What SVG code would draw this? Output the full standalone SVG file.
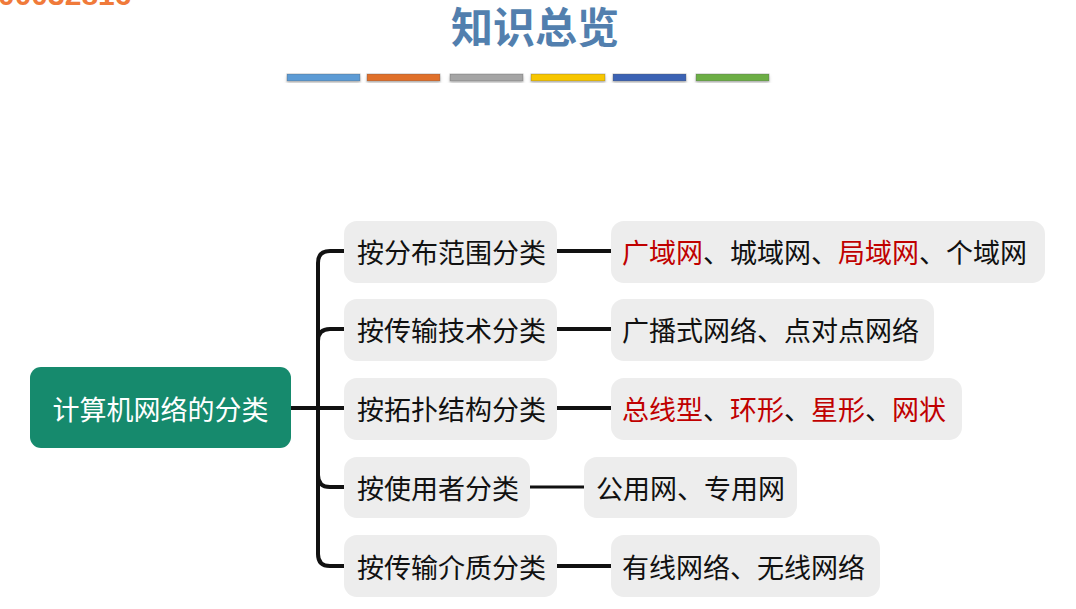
<svg xmlns="http://www.w3.org/2000/svg" width="1076" height="609" viewBox="0 0 1076 609">
<defs>
<style>
.t{font-family:"Noto Sans CJK SC","Noto Sans",sans-serif;font-size:27px;fill:#111;dominant-baseline:central}
.r{fill:#c00000}
.box{fill:#ededed}
.c{fill:none;stroke:#111;stroke-width:4;stroke-linecap:butt}
.bar{stroke:#555;stroke-opacity:0.35;stroke-width:1}
</style>
<filter id="sh" x="-10%" y="-10%" width="120%" height="130%">
<feDropShadow dx="0" dy="2" stdDeviation="1.5" flood-color="#000" flood-opacity="0.25"/>
</filter>
</defs>
<rect width="1076" height="609" fill="#fff"/>
<text x="-2" y="5" font-family="Liberation Sans,sans-serif" font-size="30" font-weight="bold" fill="#f07a3a">00032816</text>
<g id="title">
<text x="535" y="43" font-family="Noto Sans CJK SC,sans-serif" font-size="42" font-weight="bold" fill="#527fae" text-anchor="middle">知识总览</text>
</g>
<g id="bars" filter="url(#sh)">
<rect class="bar" x="287" y="74" width="73" height="7" fill="#5b9bd5"/>
<rect class="bar" x="367" y="74" width="73" height="7" fill="#e0702a"/>
<rect class="bar" x="450" y="74" width="73" height="7" fill="#a5a5a5"/>
<rect class="bar" x="531" y="74" width="74" height="7" fill="#f7c600"/>
<rect class="bar" x="613" y="74" width="73" height="7" fill="#3a62b4"/>
<rect class="bar" x="696" y="74" width="73" height="7" fill="#6cae45"/>
</g>
<g id="connectors">
<path class="c" d="M345,251 H330 Q318,251 318,263 V554 Q318,566 330,566 H345"/>
<path class="c" d="M318,341 Q318,329 330,329 H345"/>
<path class="c" d="M291,408 H345"/>
<path class="c" d="M318,475 Q318,487 330,487 H345"/>
<path class="c" d="M557,251 H611"/>
<path class="c" d="M557,329 H611"/>
<path class="c" d="M557,408 H611"/>
<path class="c" d="M530,487 H584" style="stroke-width:3"/>
<path class="c" d="M557,566 H611"/>
</g>
<g id="root">
<rect x="30" y="367" width="261" height="81" rx="11" fill="#168a6d"/>
<text class="t" x="160.5" y="408" text-anchor="middle" style="fill:#fff">计算机网络的分类</text>
</g>
<g id="b1">
<rect class="box" x="344" y="221" width="213" height="62" rx="13"/>
<text class="t" x="357" y="251">按分布范围分类</text>
</g>
<g id="b2">
<rect class="box" x="344" y="299" width="213" height="62" rx="13"/>
<text class="t" x="357" y="329">按传输技术分类</text>
</g>
<g id="b3">
<rect class="box" x="344" y="378" width="213" height="62" rx="13"/>
<text class="t" x="357" y="408">按拓扑结构分类</text>
</g>
<g id="b4">
<rect class="box" x="344" y="457" width="186" height="61" rx="13"/>
<text class="t" x="357" y="487">按使用者分类</text>
</g>
<g id="b5">
<rect class="box" x="344" y="535" width="213" height="62" rx="13"/>
<text class="t" x="357" y="566">按传输介质分类</text>
</g>
<g id="l1">
<rect class="box" x="611" y="221" width="434" height="62" rx="13"/>
<text class="t" x="622" y="251"><tspan class="r">广域网</tspan>、城域网、<tspan class="r">局域网</tspan>、个域网</text>
</g>
<g id="l2">
<rect class="box" x="611" y="299" width="323" height="62" rx="13"/>
<text class="t" x="622" y="329">广播式网络、点对点网络</text>
</g>
<g id="l3">
<rect class="box" x="611" y="378" width="351" height="62" rx="13"/>
<text class="t" x="622" y="408"><tspan class="r">总线型</tspan>、<tspan class="r">环形</tspan>、<tspan class="r">星形</tspan>、<tspan class="r">网状</tspan></text>
</g>
<g id="l4">
<rect class="box" x="584" y="457" width="213" height="61" rx="13"/>
<text class="t" x="596" y="487">公用网、专用网</text>
</g>
<g id="l5">
<rect class="box" x="611" y="535" width="269" height="62" rx="13"/>
<text class="t" x="622" y="566">有线网络、无线网络</text>
</g>
</svg>
